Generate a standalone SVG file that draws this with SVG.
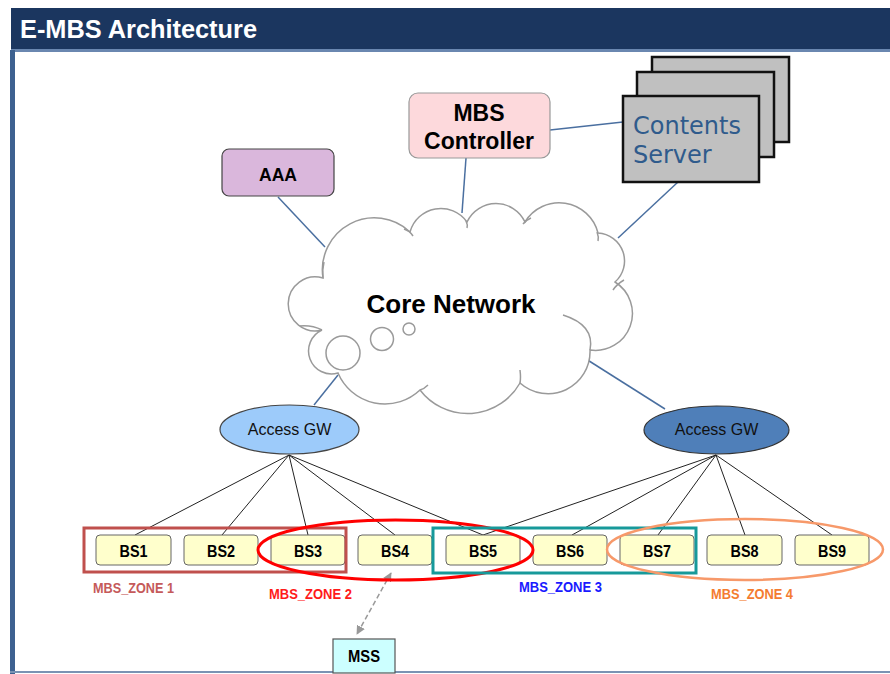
<svg xmlns="http://www.w3.org/2000/svg" width="890" height="674" viewBox="0 0 890 674">
<style>
.b{font-family:"Liberation Sans",Arial,sans-serif;font-weight:bold;fill:#000;text-anchor:middle}
.bs rect{fill:#ffffcc;stroke:#666;stroke-width:1}
.lnk{stroke:#4a6fa0;stroke-width:1.5;fill:none}
.blk{stroke:#222;stroke-width:1;fill:none}
.zl{font-family:"Liberation Sans",Arial,sans-serif;font-weight:bold;font-size:15px}
.cl{fill:none;stroke:#9a9a9a;stroke-width:1.5}
</style>
<defs>
<marker id="ah" viewBox="0 0 10 10" refX="9" refY="5" markerWidth="6" markerHeight="6" orient="auto-start-reverse"><path d="M0,0 L10,5 L0,10 z" fill="#999"/></marker>
</defs>
<rect x="0" y="0" width="890" height="674" fill="#fff"/>
<g id="frame">
<rect x="11" y="8" width="879" height="41" fill="#1b365f"/>
<rect x="11" y="49" width="879" height="3" fill="#6a87b0"/>
<rect x="10" y="50" width="5" height="624" fill="#3d6190"/>
<rect x="10" y="671" width="880" height="2" fill="#7a93b3"/>
<text x="20" y="38" font-family="Liberation Sans,Arial,sans-serif" font-weight="bold" font-size="26" fill="#fff" textLength="237" lengthAdjust="spacingAndGlyphs">E-MBS Architecture</text>
</g>
<g id="connectors">
<line class="lnk" x1="278" y1="197" x2="325" y2="247"/>
<line class="lnk" x1="466" y1="158" x2="462" y2="213"/>
<line class="lnk" x1="550" y1="130" x2="623" y2="122"/>
<line class="lnk" x1="678" y1="182" x2="618" y2="238"/>
<line class="lnk" x1="338" y1="375" x2="314" y2="405"/>
<line class="lnk" x1="586" y1="359" x2="665" y2="409"/>
<line class="blk" x1="289" y1="455" x2="135" y2="535"/>
<line class="blk" x1="289" y1="455" x2="222" y2="535"/>
<line class="blk" x1="289" y1="455" x2="308" y2="535"/>
<line class="blk" x1="289" y1="455" x2="395" y2="535"/>
<line class="blk" x1="289" y1="455" x2="483" y2="535"/>
<line class="blk" x1="716" y1="455" x2="483" y2="535"/>
<line class="blk" x1="716" y1="455" x2="572" y2="535"/>
<line class="blk" x1="716" y1="455" x2="658" y2="535"/>
<line class="blk" x1="716" y1="455" x2="745" y2="535"/>
<line class="blk" x1="716" y1="455" x2="832" y2="535"/>
<line x1="391" y1="573" x2="357" y2="634" stroke="#999" stroke-width="1.5" stroke-dasharray="5,3" marker-start="url(#ah)" marker-end="url(#ah)"/>
</g>
<g id="aaa">
<rect x="222" y="149" width="112" height="47" rx="7" fill="#dab7dc" stroke="#444" stroke-width="1.2"/>
<text class="b" x="278" y="181" font-size="18" textLength="38" lengthAdjust="spacingAndGlyphs">AAA</text>
</g>
<g id="mbs-controller">
<rect x="409" y="93" width="141" height="65" rx="9" fill="#fdd9dc" stroke="#999" stroke-width="1.2"/>
<text class="b" x="479" y="121" font-size="23">MBS</text>
<text class="b" x="479" y="149" font-size="23">Controller</text>
</g>
<g id="contents-server">
<rect x="652" y="57" width="137" height="85" fill="#c0c0c0" stroke="#111" stroke-width="2.5"/>
<rect x="637" y="72" width="137" height="85" fill="#c0c0c0" stroke="#111" stroke-width="2.5"/>
<rect x="623" y="96" width="136" height="86" fill="#c0c0c0" stroke="#111" stroke-width="2.5"/>
<text x="633" y="134" font-family="DejaVu Sans,sans-serif" font-size="24" fill="#2f5b8c">Contents</text>
<text x="633" y="163" font-family="DejaVu Sans,sans-serif" font-size="24" fill="#2f5b8c">Server</text>
</g>
<g id="core-network">
<path d="M323,278 A52,52 0 0,1 410,232 A32,32 0 0,1 467,222 A32,32 0 0,1 525,222 A40,40 0 0,1 598,233 A28,28 0 0,1 615,282 A37,37 0 0,1 590,350 A42,42 0 0,1 520,383 A60,60 0 0,1 420,390 A51,51 0 0,1 338,373 A23,23 0 0,1 322,330 A27,27 0 1,1 323,278 Z" fill="#fff" stroke="#9a9a9a" stroke-width="1.5"/>
<path class="cl" d="M563,315 Q595,325 590,350"/>
<path class="cl" d="M520,370 Q521,378 520,383"/>
<path class="cl" d="M428,385 Q424,389 420,390"/>
<path class="cl" d="M300,326 Q312,325 322,330"/>
<path class="cl" d="M324,262 Q322,270 323,278"/>
<path class="cl" d="M404,229 Q410,231 413,236"/>
<path class="cl" d="M466,221 Q468,225 467,228"/>
<path class="cl" d="M523,224 Q526,220 531,218"/>
<path class="cl" d="M597,232 Q599,237 598,241"/>
<path class="cl" d="M613,290 Q617,284 624,280"/>
<circle class="cl" cx="343" cy="353" r="17"/>
<circle class="cl" cx="382" cy="339" r="11.5"/>
<circle class="cl" cx="409" cy="329" r="6"/>
<text class="b" x="451" y="313" font-size="26">Core Network</text>
</g>
<g id="access-gw-1">
<ellipse cx="289.5" cy="429.5" rx="69.5" ry="24.5" fill="#9dcbfa" stroke="#444" stroke-width="1.2"/>
<text x="289.5" y="435" font-family="Liberation Sans,Arial,sans-serif" font-size="16" text-anchor="middle" fill="#111">Access GW</text>
</g>
<g id="access-gw-2">
<ellipse cx="716.5" cy="430" rx="72.5" ry="24" fill="#4f7fb9" stroke="#333" stroke-width="1.2"/>
<text x="716.5" y="435" font-family="Liberation Sans,Arial,sans-serif" font-size="16" text-anchor="middle" fill="#111">Access GW</text>
</g>
<g id="bs1" class="bs"><rect x="96" y="535" width="75" height="30" rx="4"/><text class="b" x="133.5" y="557" font-size="17" textLength="28" lengthAdjust="spacingAndGlyphs">BS1</text></g>
<g id="bs2" class="bs"><rect x="184" y="535" width="74" height="30" rx="4"/><text class="b" x="221" y="557" font-size="17" textLength="28" lengthAdjust="spacingAndGlyphs">BS2</text></g>
<g id="bs3" class="bs"><rect x="271" y="535" width="74" height="30" rx="4"/><text class="b" x="308" y="557" font-size="17" textLength="28" lengthAdjust="spacingAndGlyphs">BS3</text></g>
<g id="bs4" class="bs"><rect x="358" y="535" width="74" height="30" rx="4"/><text class="b" x="395" y="557" font-size="17" textLength="28" lengthAdjust="spacingAndGlyphs">BS4</text></g>
<g id="bs5" class="bs"><rect x="446" y="535" width="74" height="30" rx="4"/><text class="b" x="483" y="557" font-size="17" textLength="28" lengthAdjust="spacingAndGlyphs">BS5</text></g>
<g id="bs6" class="bs"><rect x="533" y="535" width="74" height="30" rx="4"/><text class="b" x="570" y="557" font-size="17" textLength="28" lengthAdjust="spacingAndGlyphs">BS6</text></g>
<g id="bs7" class="bs"><rect x="620" y="535" width="74" height="30" rx="4"/><text class="b" x="657" y="557" font-size="17" textLength="28" lengthAdjust="spacingAndGlyphs">BS7</text></g>
<g id="bs8" class="bs"><rect x="707" y="535" width="75" height="30" rx="4"/><text class="b" x="744.5" y="557" font-size="17" textLength="28" lengthAdjust="spacingAndGlyphs">BS8</text></g>
<g id="bs9" class="bs"><rect x="795" y="535" width="74" height="30" rx="4"/><text class="b" x="832" y="557" font-size="17" textLength="28" lengthAdjust="spacingAndGlyphs">BS9</text></g>
<g id="mbs-zone-1">
<rect x="84" y="528" width="262" height="44" fill="none" stroke="#c0504d" stroke-width="3"/>
<text class="zl" x="93" y="593" fill="#c55a5a" textLength="81" lengthAdjust="spacingAndGlyphs">MBS_ZONE 1</text>
</g>
<g id="mbs-zone-2">
<ellipse cx="395.5" cy="550" rx="137.5" ry="30" fill="none" stroke="#ff0000" stroke-width="3"/>
<text class="zl" x="269" y="599" fill="#ff1a1a" textLength="83" lengthAdjust="spacingAndGlyphs">MBS_ZONE 2</text>
</g>
<g id="mbs-zone-3">
<rect x="433" y="528" width="263" height="45" fill="none" stroke="#17999a" stroke-width="3"/>
<text class="zl" x="519" y="592" fill="#1a1aff" textLength="83" lengthAdjust="spacingAndGlyphs">MBS_ZONE 3</text>
</g>
<g id="mbs-zone-4">
<ellipse cx="745" cy="549.5" rx="138" ry="30.5" fill="none" stroke="#f7996a" stroke-width="2.5"/>
<text class="zl" x="711" y="599" fill="#f47c30" textLength="82" lengthAdjust="spacingAndGlyphs">MBS_ZONE 4</text>
</g>
<g id="mss">
<rect x="333" y="639" width="62" height="34" fill="#ccffff" stroke="#555" stroke-width="1.2"/>
<text class="b" x="364" y="662" font-size="17" textLength="32" lengthAdjust="spacingAndGlyphs">MSS</text>
</g>
</svg>
